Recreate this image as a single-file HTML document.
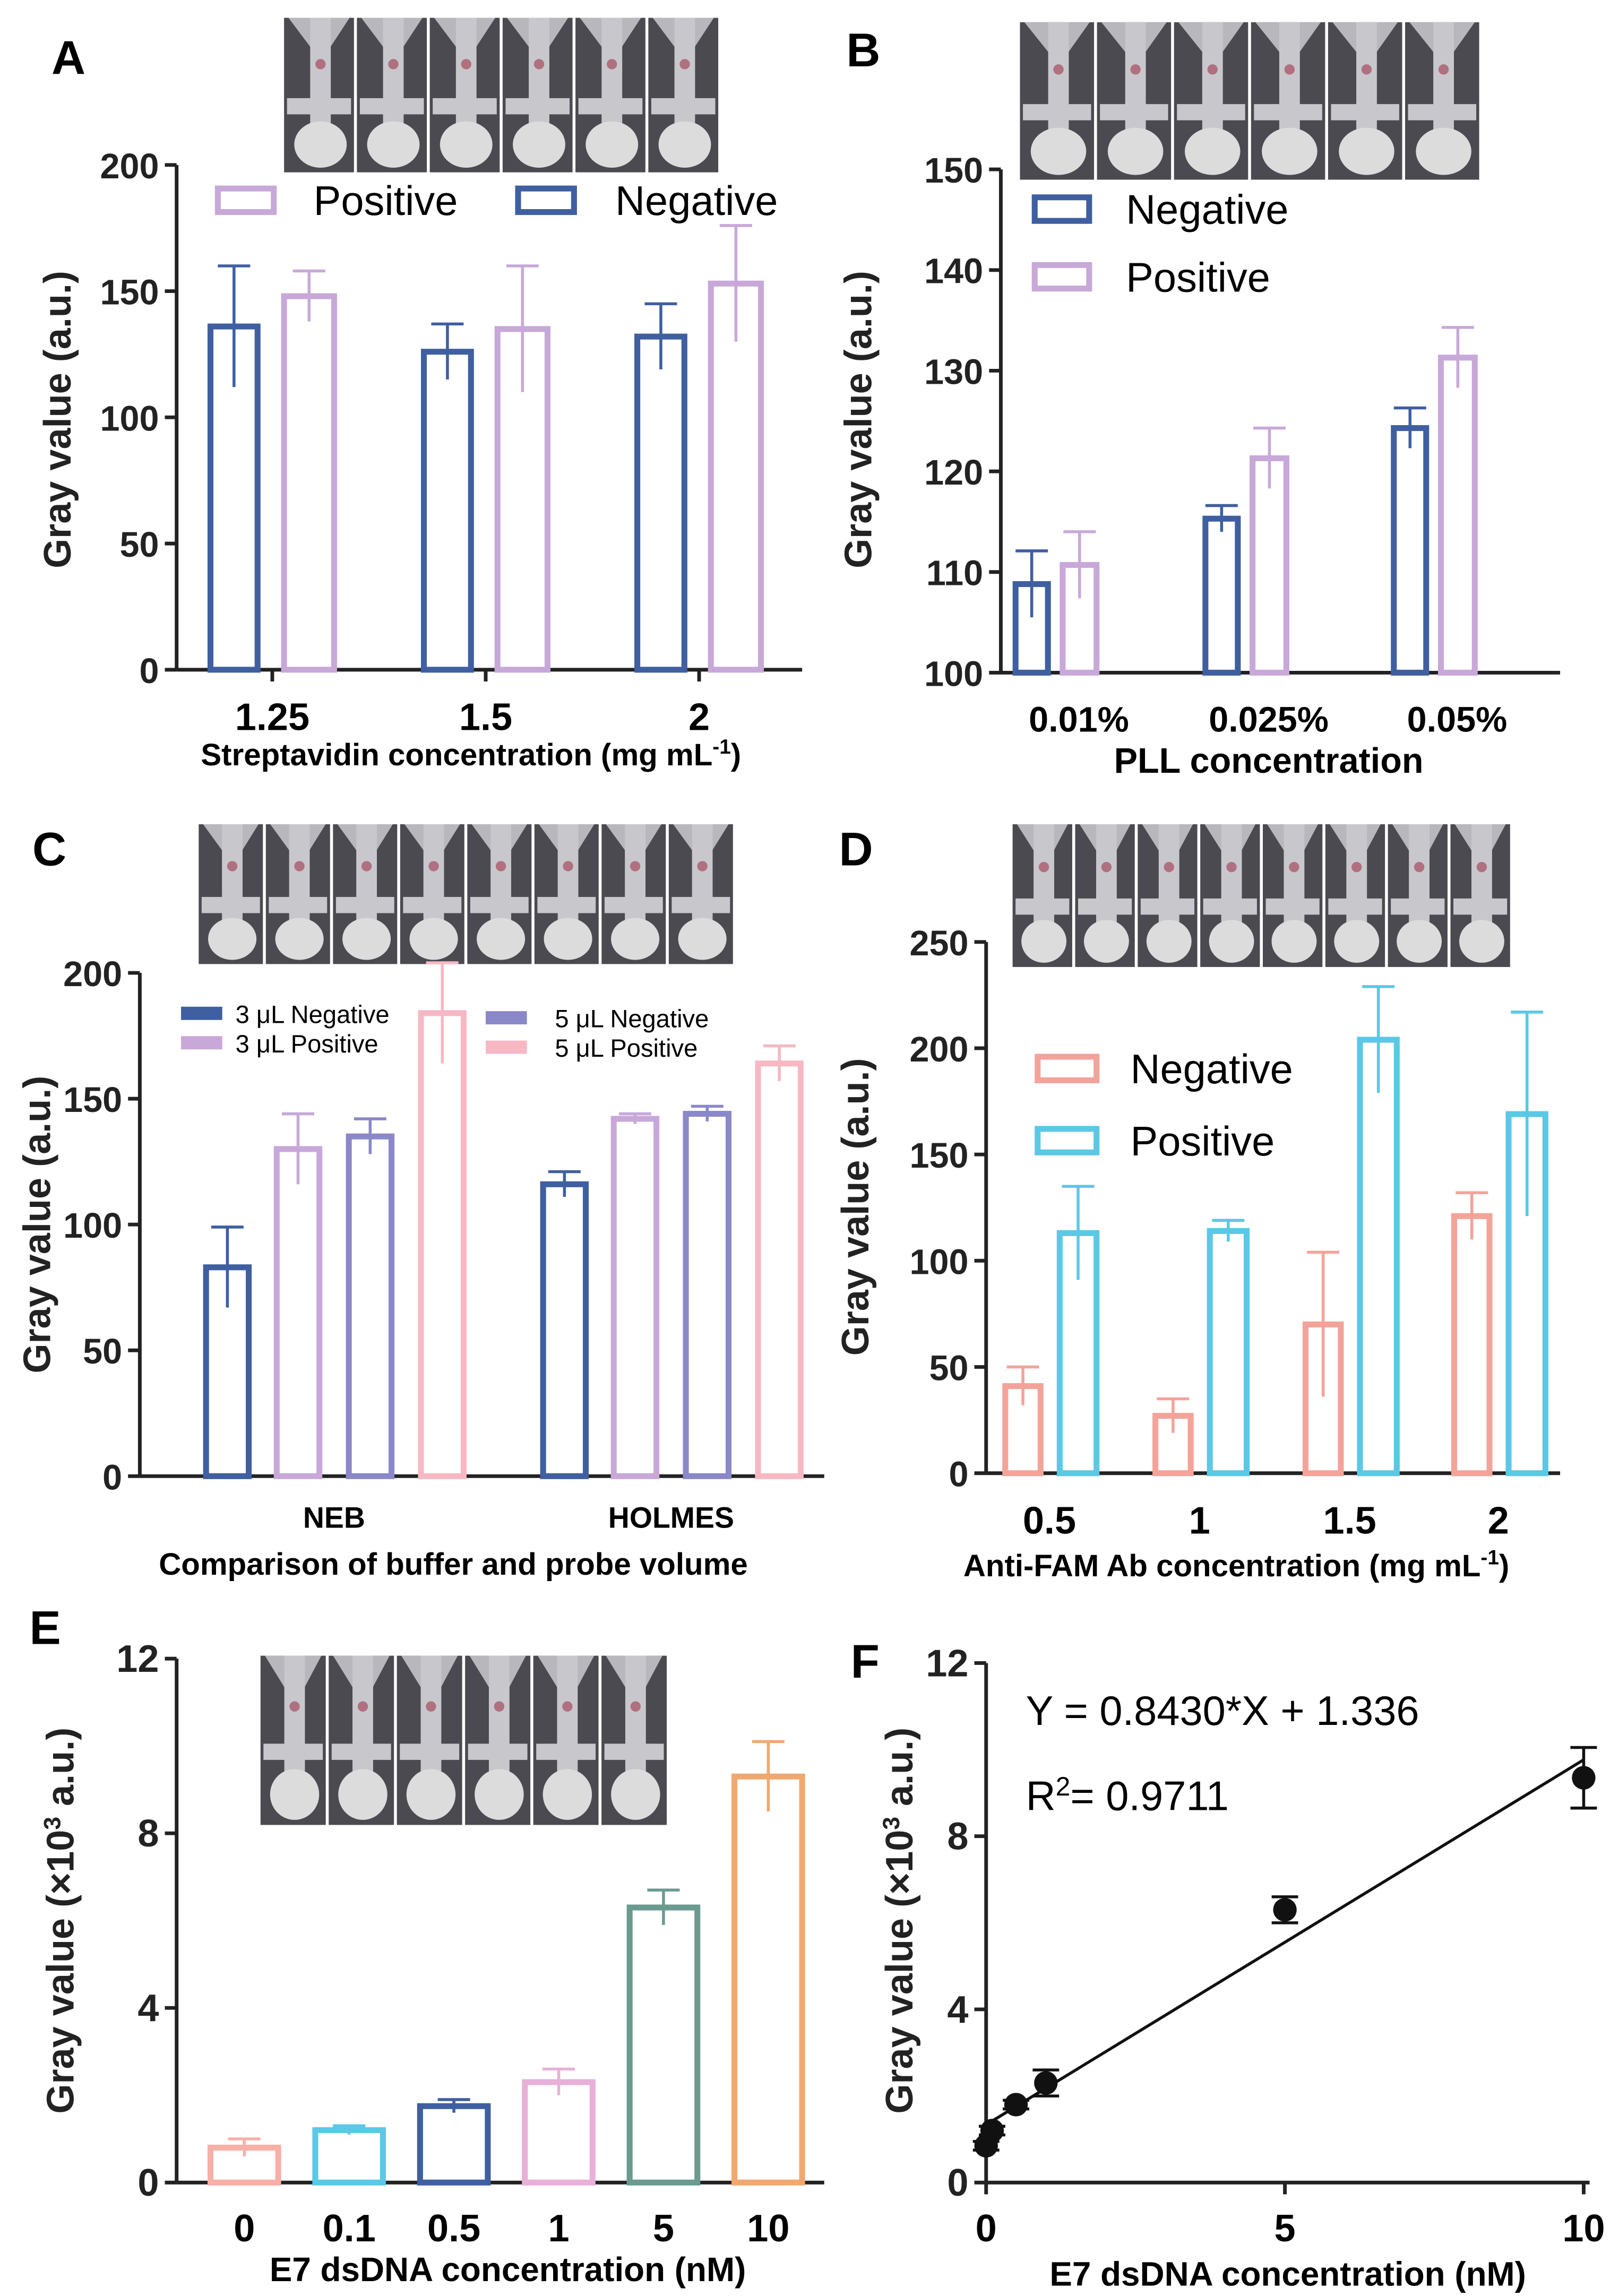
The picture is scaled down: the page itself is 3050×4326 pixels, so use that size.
<!DOCTYPE html>
<html><head><meta charset="utf-8"><style>
html,body{margin:0;padding:0;background:#fff}
svg{display:block}
text{font-family:"Liberation Sans",Arial,sans-serif}
</style></head><body>
<svg id="fig" xmlns="http://www.w3.org/2000/svg" width="3050" height="4326" viewBox="0 0 1100 1560">
<rect width="1100" height="1560" fill="#fff"/>
<g id="root"></g>
</svg>
<script>
// Panel A data
const aCats=["1.25","1.5","2"];
const aNeg=[136,126,132], aNegErr=[24,11,13];
const aPos=[148,135,153], aPosErr=[10,25,23];
const aTicks=[0,50,100,150,200];
// Panel B data
const bCats=["0.01%","0.025%","0.05%"];
const bNeg=[108.8,115.3,124.3], bNegErr=[3.3,1.3,2];
const bPos=[110.7,121.3,131.3], bPosErr=[3.3,3,3];
const bTicks=[100,110,120,130,140,150];
// Panel C data
const cCats=["NEB","HOLMES"];
const cSeries=["3 μL Negative","3 μL Positive","5 μL Negative","5 μL Positive"];
const cVals=[[83,116],[130,142],[135,144],[184,164]];
const cErr=[[16,5],[14,2],[7,3],[20,7]];
const cTicks=[0,50,100,150,200];
// Panel D data
const dCats=["0.5","1","1.5","2"];
const dNeg=[41,27,70,121], dNegErr=[9,8,34,11];
const dPos=[113,114,204,169], dPosErr=[22,5,25,48];
const dTicks=[0,50,100,150,200,250];
// Panel E data
const eCats=["0","0.1","0.5","1","5","10"];
const eVals=[0.8,1.2,1.75,2.3,6.3,9.3];
const eErr=[0.2,0.1,0.15,0.3,0.4,0.8];
const eTicks=[0,4,8,12];
// Panel F data
const fX=[0,0.1,0.5,1,5,10];
const fY=[0.85,1.2,1.8,2.3,6.3,9.35];
const fErr=[0.1,0.1,0.1,0.3,0.3,0.7];
const fSlope=0.843, fInt=1.336;
const fXTicks=[0,5,10];
const fYTicks=[0,4,8,12];

const NS="http://www.w3.org/2000/svg";
const root=document.getElementById('root');
function el(tag,attrs,parent,txt){const e=document.createElementNS(NS,tag);for(const k in attrs)e.setAttribute(k,attrs[k]);if(txt!==undefined)e.textContent=txt;(parent||root).appendChild(e);return e;}
function group(name){const g=el('g',{});return g;}
function yAxis(g,x,y0,y1,v0,v1,ticks,fs){
  const s=v=>y0-(v-v0)/(v1-v0)*(y0-y1);
  el('line',{x1:x,y1:y0,x2:x,y2:y1,stroke:'#222','stroke-width':2.5},g);
  ticks.forEach(t=>{el('line',{x1:x-8,y1:s(t),x2:x,y2:s(t),stroke:'#222','stroke-width':2.5},g);
    el('text',{x:x-12,y:s(t)+9,'text-anchor':'end','font-size':fs,'font-weight':'bold',fill:'#222'},g,t);});
  return s;
}
function bar(g,x,w,yv,y0,err,s,color,name){
  const b=el('rect',{x:x,y:s(yv),width:w,height:y0-s(yv),fill:'none',stroke:color,'stroke-width':4},g);
  
  
  const cx=x+w/2;
  el('line',{x1:cx,y1:s(yv),x2:cx,y2:s(yv+err),stroke:color,'stroke-width':2},g);
  el('line',{x1:cx-11,y1:s(yv+err),x2:cx+11,y2:s(yv+err),stroke:color,'stroke-width':2},g);
  el('line',{x1:cx,y1:s(yv),x2:cx,y2:s(yv-err),stroke:color,'stroke-width':2},g);
}
function photos(g,x,y,w,h,n){
  const pw=w/n;
  for(let i=0;i<n;i++){const px=x+i*pw;
    el('rect',{x:px,y:y,width:pw-2,height:h,fill:'#4a4a50'},g);
    const cx=px+pw/2;
    el('polygon',{points:`${px+3},${y} ${px+pw-5},${y} ${cx+6},${y+h*0.2} ${cx-6},${y+h*0.2}`,fill:'#b8b8bc'},g);
    el('rect',{x:cx-7,y:y,width:14,height:h*0.75,fill:'#c8c8cc'},g);
    el('rect',{x:px+2,y:y+h*0.52,width:pw-6,height:11,fill:'#c8c8cc'},g);
    el('ellipse',{cx:cx,cy:y+h*0.82,rx:pw*0.36,ry:h*0.15,fill:'#dcdcdc'},g);
    el('circle',{cx:cx,cy:y+h*0.3,r:3.5,fill:'#b07080'},g);
  }
}
function letter(t,x,y){const e=el('text',{x:x,y:y,'font-size':32,'font-weight':'bold'},root,t);}
function ytitle(g,x,cy,t,fs){const e=el('text',{x:0,y:0,transform:`translate(${x},${cy}) rotate(-90)`,'text-anchor':'middle','font-size':fs,'font-weight':'bold',fill:'#222'},g);e.innerHTML=t;}

// ---- A
(function(){const g=group('panel-a-chart');
 photos(g,193,12,297,105,6);
 const s=yAxis(g,120,455,112,0,200,aTicks,24);
 el('line',{x1:120,y1:455,x2:545,y2:455,stroke:'#222','stroke-width':2.5},g);
 const cx=[185,330,475];
 aCats.forEach((c,i)=>{
  bar(g,cx[i]-42,32,aNeg[i],455,aNegErr[i],s,'#3f5fa0','bar-a-negative-'+c);
  bar(g,cx[i]+8,34,aPos[i],455,aPosErr[i],s,'#c8a8d8','bar-a-positive-'+c);
  el('text',{x:cx[i],y:496,'text-anchor':'middle','font-size':26,'font-weight':'bold'},g,c);
  el('line',{x1:cx[i],y1:455,x2:cx[i],y2:463,stroke:'#222','stroke-width':2.5},g);
 });
 const t=el('text',{x:320,y:520,'text-anchor':'middle','font-size':21,'font-weight':'bold'},g);t.innerHTML='Streptavidin concentration (mg mL<tspan dy="-8" font-size="14">-1</tspan><tspan dy="8">)</tspan>';
 ytitle(g,48,285,'Gray value (a.u.)',26);
 el('rect',{x:148,y:128,width:38,height:16,fill:'none',stroke:'#c8a8d8','stroke-width':4},g);
 el('text',{x:213,y:146,'font-size':28},g,'Positive');
 el('rect',{x:352,y:128,width:38,height:16,fill:'none',stroke:'#3f5fa0','stroke-width':4},g);
 el('text',{x:418,y:146,'font-size':28},g,'Negative');
})();
letter('A',35,50);

// ---- B
(function(){const g=group('panel-b-chart');
 photos(g,693,15,314,107,6);
 const s=yAxis(g,680,457,115,100,150,bTicks,24);
 el('line',{x1:680,y1:457,x2:1060,y2:457,stroke:'#222','stroke-width':2.5},g);
 const cx=[733,862,990];
 bCats.forEach((c,i)=>{
  bar(g,cx[i]-43,22,bNeg[i],457,bNegErr[i],s,'#3f5fa0','bar-b-negative-'+c);
  bar(g,cx[i]-11,23,bPos[i],457,bPosErr[i],s,'#c8a8d8','bar-b-positive-'+c);
  el('text',{x:cx[i],y:497,'text-anchor':'middle','font-size':24,'font-weight':'bold'},g,c);
 });
 el('text',{x:862,y:525,'text-anchor':'middle','font-size':24,'font-weight':'bold'},g,'PLL concentration');
 ytitle(g,592,285,'Gray value (a.u.)',26);
 el('rect',{x:703,y:134,width:37,height:16,fill:'none',stroke:'#3f5fa0','stroke-width':4},g);
 el('text',{x:765,y:152,'font-size':28},g,'Negative');
 el('rect',{x:703,y:180,width:37,height:16,fill:'none',stroke:'#c8a8d8','stroke-width':4},g);
 el('text',{x:765,y:198,'font-size':28},g,'Positive');
})();
letter('B',575,45);

// ---- C
(function(){const g=group('panel-c-chart');
 photos(g,135,560,365,95,8);
 const s=yAxis(g,95,1003,661,0,200,cTicks,24);
 el('line',{x1:95,y1:1003,x2:560,y2:1003,stroke:'#222','stroke-width':2.5},g);
 const cols=['#3f5fa0','#c8a8d8','#8a88c8','#f7b8c4'];
 const gx=[140,369], off=[0,48,97,146];
 cCats.forEach((c,i)=>{
  cSeries.forEach((sn,j)=>bar(g,gx[i]+off[j],29,cVals[j][i],1003,cErr[j][i],s,cols[j],'bar-c-'+c+'-'+j));
 });
 el('text',{x:227,y:1038,'text-anchor':'middle','font-size':20,'font-weight':'bold'},g,'NEB');
 el('text',{x:456,y:1038,'text-anchor':'middle','font-size':20,'font-weight':'bold'},g,'HOLMES');
 el('text',{x:308,y:1070,'text-anchor':'middle','font-size':21,'font-weight':'bold'},g,'Comparison of buffer and probe volume');
 ytitle(g,34,832,'Gray value (a.u.)',26);
 const lp=[[123,684],[123,704],[330,687],[330,707]];
 cSeries.forEach((sn,j)=>{el('rect',{x:lp[j][0],y:lp[j][1],width:28,height:9,fill:cols[j]},g);
  el('text',{x:lp[j][0]+(j<2?37:47),y:lp[j][1]+11,'font-size':17},g,sn);});
})();
letter('C',22,588);

// ---- D
(function(){const g=group('panel-d-chart');
 photos(g,688,560,340,97,8);
 const s=yAxis(g,670,1001,640,0,250,dTicks,24);
 el('line',{x1:670,y1:1001,x2:1060,y2:1001,stroke:'#222','stroke-width':2.5},g);
 const cx=[713,815,917,1018];
 dCats.forEach((c,i)=>{
  bar(g,cx[i]-30,24,dNeg[i],1001,dNegErr[i],s,'#f4a39a','bar-d-negative-'+c);
  bar(g,cx[i]+7,25,dPos[i],1001,dPosErr[i],s,'#5bc8e5','bar-d-positive-'+c);
  el('text',{x:cx[i],y:1042,'text-anchor':'middle','font-size':26,'font-weight':'bold'},g,c);
 });
 const t=el('text',{x:840,y:1071,'text-anchor':'middle','font-size':21,'font-weight':'bold'},g);t.innerHTML='Anti-FAM Ab concentration (mg mL<tspan dy="-8" font-size="14">-1</tspan><tspan dy="8">)</tspan>';
 ytitle(g,590,820,'Gray value (a.u.)',26);
 el('rect',{x:705,y:718,width:40,height:16,fill:'none',stroke:'#f4a39a','stroke-width':4},g);
 el('text',{x:768,y:736,'font-size':28},g,'Negative');
 el('rect',{x:705,y:767,width:40,height:16,fill:'none',stroke:'#5bc8e5','stroke-width':4},g);
 el('text',{x:768,y:785,'font-size':28},g,'Positive');
})();
letter('D',570,588);

// ---- E
(function(){const g=group('panel-e-chart');
 photos(g,177,1125,278,115,6);
 const s=yAxis(g,120,1483,1127,0,12,eTicks,26);
 el('line',{x1:120,y1:1483,x2:560,y2:1483,stroke:'#222','stroke-width':2.5},g);
 const cols=['#f7b0a8','#5bc8e5','#3f5fa0','#e8b0d8','#6a9a90','#f0a870'];
 eCats.forEach((c,i)=>{const x=143+i*71.2;
  bar(g,x,46,eVals[i],1483,eErr[i],s,cols[i],'bar-e-'+c);
  el('text',{x:x+23,y:1523,'text-anchor':'middle','font-size':26,'font-weight':'bold'},g,c);
 });
 el('text',{x:345,y:1550,'text-anchor':'middle','font-size':23,'font-weight':'bold'},g,'E7 dsDNA concentration (nM)');
 ytitle(g,50,1305,'Gray value (×10<tspan dy="-9" font-size="16">3</tspan><tspan dy="9"> a.u.)</tspan>',26);
})();
letter('E',20,1117);

// ---- F
(function(){const g=group('panel-f-chart');
 const s=yAxis(g,670,1483,1130,0,12,fYTicks,26);
 const xs=v=>670+v*40.6;
 el('line',{x1:670,y1:1483,x2:1080,y2:1483,stroke:'#222','stroke-width':2.5},g);
 fXTicks.forEach(t=>{el('line',{x1:xs(t),y1:1483,x2:xs(t),y2:1491,stroke:'#222','stroke-width':2.5},g);
  el('text',{x:xs(t),y:1523,'text-anchor':'middle','font-size':26,'font-weight':'bold'},g,t);});
 const ln=el('line',{x1:xs(0),y1:s(fInt),x2:xs(10),y2:s(fSlope*10+fInt),stroke:'#111','stroke-width':2},g);
 
 
 fX.forEach((x,i)=>{
  el('line',{x1:xs(x),y1:s(fY[i]+fErr[i]),x2:xs(x),y2:s(fY[i]-fErr[i]),stroke:'#111','stroke-width':2},g);
  el('line',{x1:xs(x)-9,y1:s(fY[i]+fErr[i]),x2:xs(x)+9,y2:s(fY[i]+fErr[i]),stroke:'#111','stroke-width':2},g);
  el('line',{x1:xs(x)-9,y1:s(fY[i]-fErr[i]),x2:xs(x)+9,y2:s(fY[i]-fErr[i]),stroke:'#111','stroke-width':2},g);
  const p=el('circle',{cx:xs(x),cy:s(fY[i]),r:8,fill:'#111'},g);
  
  
 });
 el('text',{x:697,y:1172,'font-size':28},g,'Y = 0.8430*X + 1.336');
 const r=el('text',{x:697,y:1230,'font-size':28},g);r.innerHTML='R<tspan dy="-10" font-size="18">2</tspan><tspan dy="10">= 0.9711</tspan>';
 el('text',{x:875,y:1553,'text-anchor':'middle','font-size':23,'font-weight':'bold'},g,'E7 dsDNA concentration (nM)');
 ytitle(g,620,1305,'Gray value (×10<tspan dy="-9" font-size="16">3</tspan><tspan dy="9"> a.u.)</tspan>',26);
})();
letter('F',578,1140);
</script>
</body></html>
